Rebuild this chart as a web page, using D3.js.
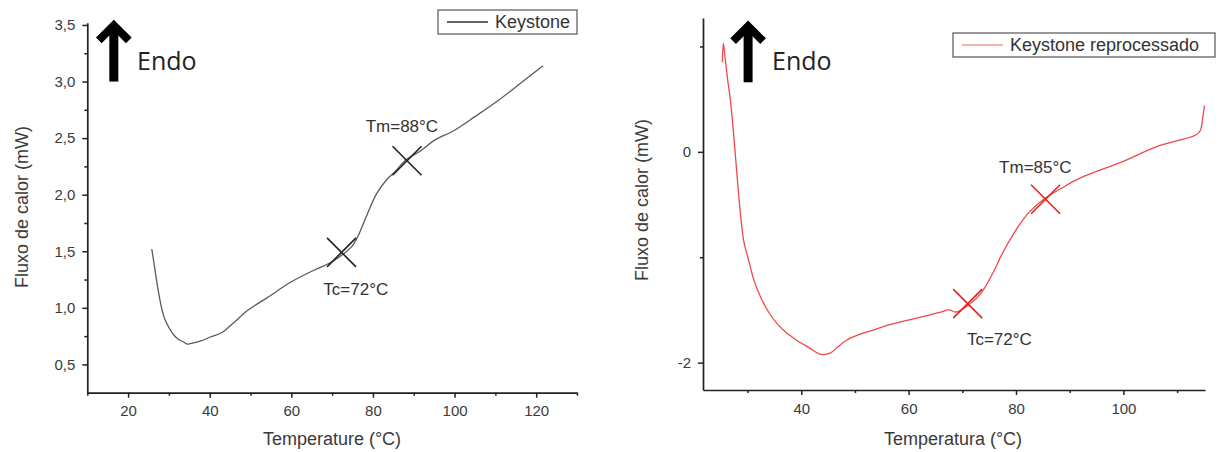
<!DOCTYPE html>
<html>
<head>
<meta charset="utf-8">
<script src="https://cdn.jsdelivr.net/npm/d3@7"></script>
<style>
  body { margin: 0; background: #fff; }
  svg { display: block; font-family: "Liberation Sans", Arial, sans-serif; }
</style>
</head>
<body>
<div id="app"></div>
<script>
// Keystone (left panel)
const keyTemp = [25.8, 26.4, 26.9, 27.5, 28.2, 29.0, 30.1, 31.2, 32.4, 33.5, 34.5, 36.0, 38.0, 40.0, 42.9, 45.6, 49.4, 54.1, 60.0, 65.4, 70.1, 72.9, 75.0, 76.4, 78.4, 80.9, 83.3, 85.3, 88.2, 91.8, 95.0, 100.0, 105.0, 110.6, 116.0, 121.7];
const keyFlow = [1.52, 1.38, 1.26, 1.13, 1.00, 0.90, 0.82, 0.76, 0.72, 0.70, 0.68, 0.69, 0.71, 0.74, 0.78, 0.86, 0.98, 1.09, 1.23, 1.33, 1.41, 1.48, 1.55, 1.64, 1.81, 2.01, 2.13, 2.20, 2.31, 2.39, 2.48, 2.57, 2.69, 2.83, 2.98, 3.14];

// Keystone reprocessado (right panel)
const repTemp = [25.3, 25.5, 25.8, 26.3, 26.8, 27.4, 28.0, 28.6, 29.3, 30.2, 31.2, 32.4, 33.9, 35.5, 37.3, 39.2, 41.5, 43.5, 45.4, 46.8, 48.5, 51.0, 53.5, 56.5, 59.7, 63.0, 66.0, 67.5, 68.8, 71.0, 73.5, 75.7, 77.5, 80.4, 82.5, 85.4, 88.3, 91.9, 100.0, 106.2, 113.5, 114.3, 114.8, 115.1];
const repFlow = [0.85, 1.03, 0.90, 0.68, 0.49, 0.17, -0.20, -0.55, -0.85, -1.03, -1.22, -1.375, -1.52, -1.63, -1.72, -1.79, -1.86, -1.92, -1.91, -1.85, -1.785, -1.73, -1.69, -1.64, -1.60, -1.56, -1.52, -1.50, -1.52, -1.46, -1.34, -1.15, -0.96, -0.71, -0.57, -0.44, -0.35, -0.25, -0.09, 0.05, 0.16, 0.20, 0.33, 0.44];

// transition markers [temp, flow]
const keyMarks = [[72.3, 1.49], [88.35, 2.30]];
const repMarks = [[71.0, -1.44], [85.5, -0.45]];
// marker labels [text, temp, flow]
const keyLabels = [["Tc=72°C", 75.8, 1.11], ["Tm=88°C", 87.1, 2.55]];
const repLabels = [["Tc=72°C", 76.9, -1.83], ["Tm=85°C", 83.6, -0.20]];

// tick values
const keyXMajor = [20, 40, 60, 80, 100, 120];
const keyXMinor = [10, 30, 50, 70, 90, 110, 130];
const keyYMajor = [0.5, 1.0, 1.5, 2.0, 2.5, 3.0, 3.5];
const keyYMinor = [0.75, 1.25, 1.75, 2.25, 2.75, 3.25];
const repXMajor = [40, 60, 80, 100];
const repXMinor = [30, 50, 70, 90, 110];
const repYMajor = [-2, 0];
const repYMinor = [-1, 1];

const W = 1220, H = 452;
const svg = d3.select("#app").append("svg")
  .attr("width", W)
  .attr("height", H);

function drawPanel(p) {
  const x = d3.scaleLinear().domain(p.xDomain).range(p.xRange);
  const y = d3.scaleLinear().domain(p.yDomain).range(p.yRange);
  const g = svg.append("g");
  const bottom = p.yRange[0], left = p.xRange[0];

  // axes
  g.append("g").attr("transform", `translate(0,${bottom})`)
    .call(d3.axisBottom(x).tickValues(p.xMajor).tickSize(5).tickSizeOuter(0).tickPadding(8).tickFormat(d => String(d)));
  g.append("g").attr("transform", `translate(0,${bottom})`)
    .call(d3.axisBottom(x).tickValues(p.xMinor).tickSize(3).tickSizeOuter(0).tickFormat(""))
    .select(".domain").remove();
  g.append("g").attr("transform", `translate(${left},0)`)
    .call(d3.axisLeft(y).tickValues(p.yMajor).tickSize(5).tickSizeOuter(0).tickPadding(7).tickFormat(p.yFormat));
  g.append("g").attr("transform", `translate(${left},0)`)
    .call(d3.axisLeft(y).tickValues(p.yMinor).tickSize(3).tickSizeOuter(0).tickFormat(""))
    .select(".domain").remove();

  g.selectAll(".domain").attr("stroke", "#222").attr("stroke-width", 1.7);
  g.selectAll(".tick line").attr("stroke", "#222").attr("stroke-width", 1.5);
  g.selectAll(".tick text")
    .attr("font-size", 15)
    .attr("fill", "#3a3a3a")
    .attr("font-family", "Liberation Sans, Arial, sans-serif");

  // axis titles
  g.append("text")
    .attr("x", p.xTitlePos[0]).attr("y", p.xTitlePos[1])
    .attr("text-anchor", "middle")
    .attr("font-size", 18).attr("fill", "#3a3a3a")
    .text(p.xTitle);
  g.append("text")
    .attr("transform", `translate(${p.yTitlePos[0]},${p.yTitlePos[1]}) rotate(-90)`)
    .attr("text-anchor", "middle")
    .attr("font-size", 18).attr("fill", "#3a3a3a")
    .text("Fluxo de calor (mW)");

  // curve
  const data = p.temp.map((t, i) => [t, p.flow[i]]);
  g.append("path")
    .datum(data)
    .attr("fill", "none")
    .attr("stroke", p.color)
    .attr("stroke-width", 1.3)
    .attr("d", d3.line().x(d => x(d[0])).y(d => y(d[1])).curve(d3.curveCatmullRom));

  // markers
  const s = 14.5;
  g.selectAll(".mark").data(p.marks).join("path")
    .attr("class", "mark")
    .attr("fill", "none")
    .attr("stroke", p.markColor)
    .attr("stroke-width", 1.6)
    .attr("d", d => {
      const cx = x(d[0]), cy = y(d[1]);
      return `M${cx - s},${cy - s}L${cx + s},${cy + s}M${cx - s},${cy + s}L${cx + s},${cy - s}`;
    });

  g.selectAll(".mlabel").data(p.labels).join("text")
    .attr("class", "mlabel")
    .attr("x", d => x(d[1])).attr("y", d => y(d[2]))
    .attr("text-anchor", "middle")
    .attr("font-size", 17).attr("fill", "#333")
    .text(d => d[0]);

  // Endo arrow
  const ax = x(p.arrow[0]), ay0 = y(p.arrow[1]), ay1 = y(p.arrow[2]);
  g.append("line")
    .attr("x1", ax).attr("x2", ax).attr("y1", ay0).attr("y2", ay1 + 6)
    .attr("stroke", "#000").attr("stroke-width", 9);
  g.append("path")
    .attr("d", `M${ax - 15},${ay1 + 20}L${ax},${ay1 + 5}L${ax + 15},${ay1 + 20}`)
    .attr("fill", "none").attr("stroke", "#000").attr("stroke-width", 8)
    .attr("stroke-linejoin", "miter").attr("stroke-miterlimit", 10);
  g.append("text")
    .attr("x", x(p.endo[0])).attr("y", y(p.endo[1]))
    .attr("font-family", "Open Sans, sans-serif")
    .attr("font-size", 25).attr("fill", "#222")
    .text("Endo");

  // legend
  const lg = g.append("g").attr("transform", `translate(${p.legend[0]},${p.legend[1]})`);
  lg.append("rect")
    .attr("width", p.legend[2]).attr("height", 24)
    .attr("fill", "#fff").attr("stroke", "#555").attr("stroke-width", 1.2);
  lg.append("line")
    .attr("x1", 9).attr("x2", 50).attr("y1", 12).attr("y2", 12)
    .attr("stroke", p.legendColor).attr("stroke-width", 1.4);
  lg.append("text")
    .attr("x", 57).attr("y", 18)
    .attr("font-size", 18).attr("fill", "#333")
    .text(p.name);
}

drawPanel({
  name: "Keystone",
  temp: keyTemp, flow: keyFlow,
  xDomain: [10, 130], xRange: [87.3, 577],
  yDomain: [0.25, 3.52], yRange: [392.7, 22.7],
  xMajor: keyXMajor, xMinor: keyXMinor,
  yMajor: keyYMajor, yMinor: keyYMinor,
  yFormat: d => d3.format(".1f")(d).replace(".", ","),
  xTitle: "Temperature (°C)", xTitlePos: [332, 445],
  yTitlePos: [28, 207],
  color: "#5a5a5a", markColor: "#222", legendColor: "#333",
  marks: keyMarks, labels: keyLabels,
  arrow: [16.5, 3.0, 3.54], endo: [22.2, 3.10],
  legend: [438, 10, 139]
});

drawPanel({
  name: "Keystone reprocessado",
  temp: repTemp, flow: repFlow,
  xDomain: [21.7, 115.2], xRange: [703, 1205],
  yDomain: [-2.26, 1.27], yRange: [390, 18],
  xMajor: repXMajor, xMinor: repXMinor,
  yMajor: repYMajor, yMinor: repYMinor,
  yFormat: d => String(d),
  xTitle: "Temperatura (°C)", xTitlePos: [953, 445],
  yTitlePos: [648, 200],
  color: "#f04848", markColor: "#e82020", legendColor: "#f29a9a",
  marks: repMarks, labels: repLabels,
  arrow: [30.1, 0.66, 1.24], endo: [34.55, 0.78],
  legend: [953, 33, 262]
});
</script>
</body>
</html>
